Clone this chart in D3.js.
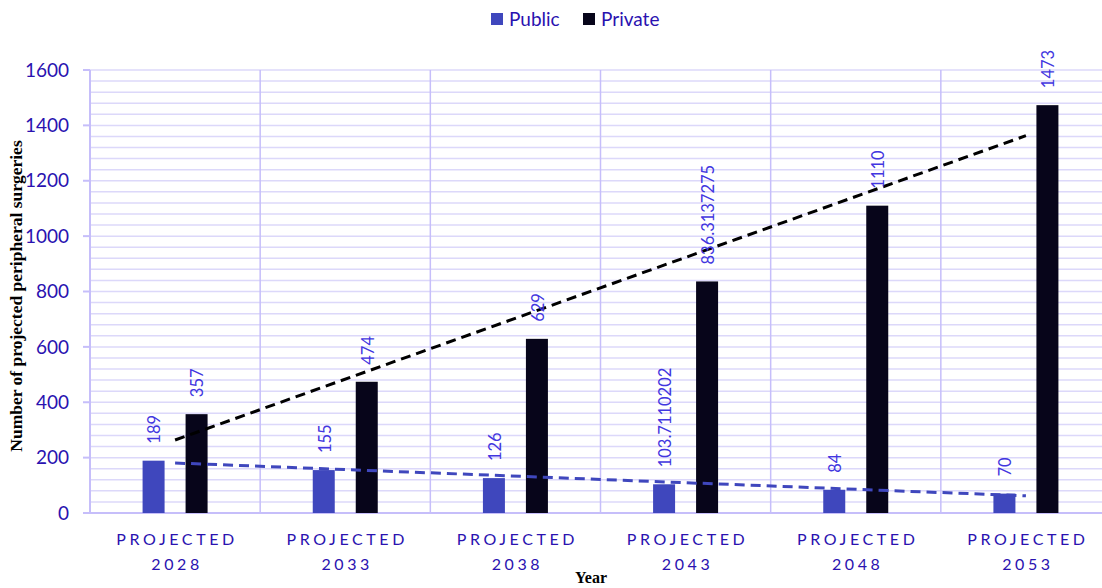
<!DOCTYPE html>
<html>
<head>
<meta charset="utf-8">
<script src="https://cdn.jsdelivr.net/npm/d3@7"></script>
<style>
body { margin:0; background:#fff; }
</style>
</head>
<body>
<script>
const width = 1102;
const height = 588;
const margin = {top:70, right:-9, bottom:75, left:90};

const years = ["2028","2033","2038","2043","2048","2053"];
const publicValues = [189,155,126,103.7110202,84,70];
const privateValues = [357,474,629,836.3137275,1110,1473];
const publicLabels = ["189","155","126","103.7110202","84","70"];
const privateLabels = ["357","474","629","836.3137275","1110","1473"];
const yTicks = [0,200,400,600,800,1000,1200,1400,1600];

const publicColor = "#3f47bd";
const privateColor = "#07051a";
const textBlue = "#2a12b0";
const labelBlue = "#4236e0";

const svg = d3.select("body").append("svg")
.attr("width",width)
.attr("height",height);

const x = d3.scaleBand().domain(years).range([margin.left, width-margin.right]);
const y = d3.scaleLinear().domain([0,1600]).range([height-margin.bottom, margin.top]);

// minor horizontal grid every 40
svg.append("g")
    .selectAll("line")
    .data(d3.range(40,1601,40))
    .join("line")
    .attr("x1", margin.left)
    .attr("x2", width-margin.right)
    .attr("y1", d=>y(d))
    .attr("y2", d=>y(d))
    .style("stroke","#dcd8fa")
    .style("stroke-width",1.5);

// vertical category separators
svg.append("g")
    .selectAll("line")
    .data(years.slice(1))
    .join("line")
    .attr("x1", d=>x(d))
    .attr("x2", d=>x(d))
    .attr("y1", y(1600))
    .attr("y2", y(0))
    .style("stroke","#c6befa")
    .style("stroke-width",1.5);

// y axis line and ticks
svg.append("line")
    .attr("x1", margin.left).attr("x2", margin.left)
    .attr("y1", y(1600)).attr("y2", y(0))
    .style("stroke","#c6befa").style("stroke-width",2);

svg.append("g")
    .selectAll("line")
    .data(yTicks)
    .join("line")
    .attr("x1", margin.left-7)
    .attr("x2", margin.left)
    .attr("y1", d=>y(d))
    .attr("y2", d=>y(d))
    .style("stroke","#c6befa").style("stroke-width",2);

svg.append("g")
    .selectAll("text")
    .data(yTicks)
    .join("text")
    .attr("x", 69)
    .attr("y", d=>y(d))
    .attr("dy","0.35em")
    .attr("text-anchor","end")
    .style("font-family","Lato, 'Open Sans', sans-serif")
    .style("font-size","19px")
    .style("fill",textBlue)
    .text(d=>d);

// x axis line
svg.append("line")
    .attr("x1", margin.left-7).attr("x2", width-margin.right)
    .attr("y1", y(0)).attr("y2", y(0))
    .style("stroke","#c6befa").style("stroke-width",2);

const barW = 22;
const offset = 10.5;

const rows = years.map((yr,i)=>({year:yr, pub:publicValues[i], priv:privateValues[i], pubLabel:publicLabels[i], privLabel:privateLabels[i]}));

const cx = d=> x(d.year) + x.bandwidth()/2;

svg.selectAll(".pub")
    .data(rows)
    .join("rect")
    .attr("class","pub")
    .attr("x", d=>cx(d)-offset-barW)
    .attr("y", d=>y(d.pub))
    .attr("width", barW)
    .attr("height", d=>y(0)-y(d.pub))
    .style("fill",publicColor);

svg.selectAll(".priv")
    .data(rows)
    .join("rect")
    .attr("class","priv")
    .attr("x", d=>cx(d)+offset)
    .attr("y", d=>y(d.priv))
    .attr("width", barW)
    .attr("height", d=>y(0)-y(d.priv))
    .style("fill",privateColor);

// linear trend lines (least squares on category index)
function trend(values) {
    const xs = values.map((v,i)=>i+1);
    const mx = d3.mean(xs), my = d3.mean(values);
    const slope = d3.sum(xs,(xi,i)=>(xi-mx)*(values[i]-my)) / d3.sum(xs, xi=>(xi-mx)*(xi-mx));
    const icpt = my - slope*mx;
    return [1, values.length].map(t=>({t, v: icpt + slope*t}));
}
const tx = t=> x(years[t-1]) + x.bandwidth()/2;

[[publicValues, publicColor],[privateValues, "#000"]].forEach(([vals,col])=>{
    const pts = trend(vals);
    svg.append("line")
        .attr("x1", tx(pts[0].t)).attr("y1", y(pts[0].v))
        .attr("x2", tx(pts[1].t)).attr("y2", y(pts[1].v))
        .style("stroke", col)
        .style("stroke-width", 3)
        .style("stroke-dasharray","10,6");
});

// rotated value labels
function valueLabels(cls, getX, getV, getT) {
    svg.selectAll("."+cls)
        .data(rows)
        .join("text")
        .attr("class",cls)
        .attr("transform", d=>`translate(${getX(d)},${y(getV(d))-17}) rotate(-90)`)
        .attr("dy","0.35em")
        .attr("text-anchor","start")
        .style("font-family","Lato, 'Open Sans', sans-serif")
        .style("font-size","16.5px")
        .style("fill",labelBlue)
        .text(getT);
}
valueLabels("pub-label", d=>cx(d)-offset-barW/2+1, d=>d.pub, d=>d.pubLabel);
valueLabels("priv-label", d=>cx(d)+offset+barW/2+1, d=>d.priv, d=>d.privLabel);

// category labels
const cat = svg.append("g")
    .selectAll("text")
    .data(years)
    .join("text")
    .attr("x", d=>x(d)+x.bandwidth()/2)
    .attr("text-anchor","middle")
    .style("font-family","Lato, 'Open Sans', sans-serif")
    .style("font-size","16px")
    .style("letter-spacing","3.6px")
    .style("fill",textBlue);
cat.append("tspan").attr("x", d=>x(d)+x.bandwidth()/2+2).attr("y",545).text("PROJECTED");
cat.append("tspan").attr("x", d=>x(d)+x.bandwidth()/2+2).attr("y",570).text(d=>d);

// axis titles
svg.append("text")
    .attr("x", 591)
    .attr("y", 583)
    .attr("text-anchor","middle")
    .style("font-family","'Liberation Serif', 'DejaVu Serif', serif")
    .style("font-weight","bold")
    .style("font-size","16px")
    .style("fill","#000")
    .text("Year");

svg.append("text")
    .attr("transform", `translate(22,296) rotate(-90)`)
    .attr("text-anchor","middle")
    .style("font-family","'Liberation Serif', 'DejaVu Serif', serif")
    .style("font-weight","bold")
    .style("font-size","17.5px")
    .style("fill","#000")
    .text("Number of projected peripheral surgeries");

// legend
const legend = [{name:"Public", color:publicColor, x:491},{name:"Private", color:privateColor, x:583}];
const lg = svg.append("g").selectAll("g").data(legend).join("g")
    .attr("transform", d=>`translate(${d.x},13)`);
lg.append("rect").attr("width",12).attr("height",12).style("fill",d=>d.color);
lg.append("text")
    .attr("x",18).attr("y",6).attr("dy","0.36em")
    .style("font-family","Lato, 'Open Sans', sans-serif")
    .style("font-size","19px")
    .style("fill",textBlue)
    .text(d=>d.name);
</script>
</body>
</html>
